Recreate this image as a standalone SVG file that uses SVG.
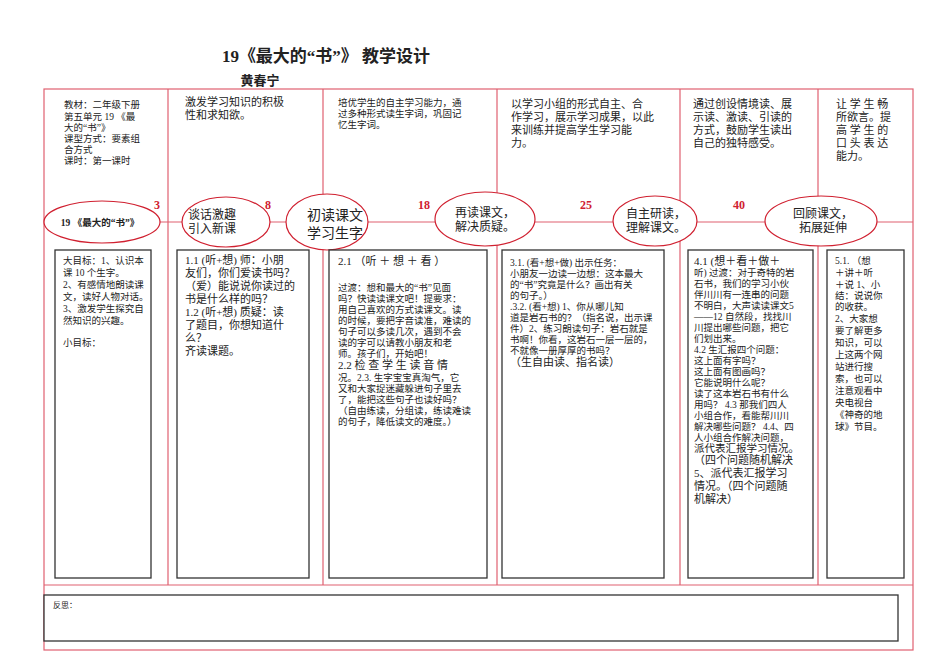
<svg xmlns="http://www.w3.org/2000/svg" width="950" height="672" viewBox="0 0 950 672">
<style>
text{font-family:"Liberation Serif","Noto Sans CJK SC",serif;fill:#222}
.red{stroke:#e06070;stroke-width:1.2;fill:none}
.ell{stroke:#d02030;stroke-width:1.2;fill:#fff}
.box{stroke:#333;stroke-width:1.3;fill:#fff}
.num{fill:#d02030;font-weight:bold;font-size:12px}
.t{font-size:11px}
.s{font-size:9.5px}
.m{font-size:12px}
</style>
<rect width="950" height="672" fill="#fff"/>
<text x="326" y="62" text-anchor="middle" font-size="17" font-weight="bold">19《最大的“书”》 教学设计</text>
<text x="260" y="85" text-anchor="middle" font-size="13" font-weight="bold">黄春宁</text>
<g id="connectors">
<rect class="red" x="44" y="89" width="869" height="561"/>
<line class="red" x1="44" y1="585" x2="913" y2="585"/>
<line class="red" x1="168" y1="89" x2="168" y2="585"/>
<line class="red" x1="323" y1="89" x2="323" y2="585"/>
<line class="red" x1="497" y1="89" x2="497" y2="585"/>
<line class="red" x1="680" y1="89" x2="680" y2="585"/>
<line class="red" x1="818" y1="89" x2="818" y2="585"/>
<line class="red" x1="160" y1="222" x2="913" y2="222"/>
</g>
<g id="top">
<text class="s"><tspan x="64" y="108">教材：二年级下册</tspan><tspan x="64" y="120">第五单元 19 《最</tspan><tspan x="64" y="131">大的“书”》</tspan><tspan x="64" y="142">课型方式：要素组</tspan><tspan x="64" y="153">合方式</tspan><tspan x="64" y="164">课时：第一课时</tspan></text>
<text class="t"><tspan x="185" y="106">激发学习知识的积极</tspan><tspan x="185" y="119">性和求知欲。</tspan></text>
<text class="s"><tspan x="338" y="106">培优学生的自主学习能力，通</tspan><tspan x="338" y="117">过多种形式读生字词，巩固记</tspan><tspan x="338" y="128">忆生字词。</tspan></text>
<text class="t"><tspan x="511" y="108">以学习小组的形式自主、合</tspan><tspan x="511" y="121">作学习，展示学习成果，以此</tspan><tspan x="511" y="134">来训练并提高学生学习能</tspan><tspan x="511" y="147">力。</tspan></text>
<text class="t"><tspan x="693" y="108">通过创设情境读、展</tspan><tspan x="693" y="121">示读、激读、引读的</tspan><tspan x="693" y="134">方式，鼓励学生读出</tspan><tspan x="693" y="147">自己的独特感受。</tspan></text>
<text class="t"><tspan x="836" y="108">让 学 生 畅</tspan><tspan x="836" y="121">所欲言。提</tspan><tspan x="836" y="134">高 学 生 的</tspan><tspan x="836" y="147">口 头 表 达</tspan><tspan x="836" y="160">能力。</tspan></text>
</g>
<g id="nums">
<text class="num" x="157" y="209" text-anchor="middle">3</text>
<text class="num" x="268" y="209" text-anchor="middle">8</text>
<text class="num" x="424" y="209" text-anchor="middle">18</text>
<text class="num" x="586" y="209" text-anchor="middle">25</text>
<text class="num" x="739" y="209" text-anchor="middle">40</text>
</g>
<g id="n1"><ellipse class="ell" cx="102" cy="222" rx="58" ry="21"/><text x="100" y="226" text-anchor="middle" font-size="9.5" font-weight="bold">19 《最大的“书”》</text></g>
<g id="n2"><ellipse class="ell" cx="226" cy="222" rx="44" ry="25"/><text class="m"><tspan x="188" y="219">谈话激趣</tspan><tspan x="188" y="233">引入新课</tspan></text></g>
<g id="n3"><ellipse class="ell" cx="327" cy="222" rx="41" ry="28"/><text font-size="14"><tspan x="307" y="220">初读课文</tspan><tspan x="307" y="238">学习生字</tspan></text></g>
<g id="n4"><ellipse class="ell" cx="485" cy="219" rx="50" ry="27"/><text class="m" text-anchor="middle"><tspan x="485" y="217">再读课文，</tspan><tspan x="485" y="231">解决质疑。</tspan></text></g>
<g id="n5"><ellipse class="ell" cx="655" cy="221" rx="42" ry="25"/><text class="m" text-anchor="middle"><tspan x="656" y="218">自主研读，</tspan><tspan x="656" y="232">理解课文。</tspan></text></g>
<g id="n6"><ellipse class="ell" cx="821" cy="221" rx="56" ry="25"/><text class="m" text-anchor="middle"><tspan x="823" y="218">回顾课文，</tspan><tspan x="823" y="232">拓展延伸</tspan></text></g>
<g id="b1"><rect class="box" x="55" y="250" width="96" height="328"/><text class="s"><tspan x="63" y="264">大目标：1、认识本</tspan><tspan x="63" y="276">课 10 个生字。</tspan><tspan x="63" y="288">2、有感情地朗读课</tspan><tspan x="63" y="300">文，读好人物对话。</tspan><tspan x="63" y="312">3、激发学生探究自</tspan><tspan x="63" y="324">然知识的兴趣。</tspan><tspan x="63" y="346">小目标：</tspan></text></g>
<g id="b2"><rect class="box" x="177" y="250" width="132" height="328"/><text class="t"><tspan x="185" y="264">1.1 (听+想) 师：小朋</tspan><tspan x="185" y="277">友们，你们爱读书吗？</tspan><tspan x="185" y="290">（爱）能说说你读过的</tspan><tspan x="185" y="303">书是什么样的吗？</tspan><tspan x="185" y="316">1.2 (听+想) 质疑：读</tspan><tspan x="185" y="329">了题目，你想知道什</tspan><tspan x="185" y="342">么？</tspan><tspan x="185" y="355">齐读课题。</tspan></text></g>
<g id="b3"><rect class="box" x="329" y="250" width="158" height="328"/><text><tspan class="t" x="338" y="265">2.1 （听 ＋ 想 ＋ 看 ）</tspan><tspan class="s" x="338" y="291">过渡：想和最大的“书”见面</tspan><tspan class="s" x="338" y="302">吗？快读读课文吧！提要求：</tspan><tspan class="s" x="338" y="313">用自己喜欢的方式读课文。读</tspan><tspan class="s" x="338" y="324">的时候，要把字音读准，难读的</tspan><tspan class="s" x="338" y="335">句子可以多读几次，遇到不会</tspan><tspan class="s" x="338" y="346">读的字可以请教小朋友和老</tspan><tspan class="s" x="338" y="357">师。孩子们，开始吧！</tspan><tspan class="t" x="338" y="369">2.2 检 查 学 生 读 音 情</tspan><tspan class="s" x="338" y="381">况。2.3. 生字宝宝真淘气，它</tspan><tspan class="s" x="338" y="392">又和大家捉迷藏躲进句子里去</tspan><tspan class="s" x="338" y="403">了，能把这些句子也读好吗？</tspan><tspan class="s" x="338" y="414">（自由练读，分组读，练读难读</tspan><tspan class="s" x="338" y="425">的句子，降低读文的难度。）</tspan></text></g>
<g id="b4"><rect class="box" x="502" y="250" width="162" height="328"/><text class="s"><tspan x="510" y="266">3.1. (看+想+做) 出示任务：</tspan><tspan x="510" y="277">小朋友一边读一边想：这本最大</tspan><tspan x="510" y="288">的“书”究竟是什么？画出有关</tspan><tspan x="510" y="299">的句子。）</tspan><tspan x="510" y="310">.3.2. (看+想) 1、你从哪儿知</tspan><tspan x="510" y="321">道是岩石书的？（指名说，出示课</tspan><tspan x="510" y="332">件）2、练习朗读句子：岩石就是</tspan><tspan x="510" y="343">书啊！你看，这岩石一层一层的，</tspan><tspan x="510" y="354">不就像一册厚厚的书吗？</tspan><tspan x="510" y="366" font-size="11">（生自由读、指名读）</tspan></text></g>
<g id="b5"><rect class="box" x="688" y="250" width="125" height="328"/><text class="s"><tspan x="694" y="265" font-size="11">4.1 (想＋看＋做＋</tspan><tspan x="694" y="276">听) 过渡：对于奇特的岩</tspan><tspan x="694" y="287">石书，我们的学习小伙</tspan><tspan x="694" y="298">伴川川有一连串的问题</tspan><tspan x="694" y="309">不明白，大声读读课文5</tspan><tspan x="694" y="320">——12 自然段，找找川</tspan><tspan x="694" y="331">川提出哪些问题，把它</tspan><tspan x="694" y="342">们划出来。</tspan><tspan x="694" y="353">4.2 生汇报四个问题：</tspan><tspan x="694" y="364">这上面有字吗？</tspan><tspan x="694" y="375">这上面有图画吗？</tspan><tspan x="694" y="386">它能说明什么呢？</tspan><tspan x="694" y="397">读了这本岩石书有什么</tspan><tspan x="694" y="408">用吗？ 4.3 那我们四人</tspan><tspan x="694" y="419">小组合作，看能帮川川</tspan><tspan x="694" y="430">解决哪些问题？ 4.4、四</tspan><tspan x="694" y="441">人小组合作解决问题，</tspan><tspan x="694" y="452" font-size="10.5">派代表汇报学习情况。</tspan><tspan x="694" y="464" font-size="11">（四个问题随机解决</tspan><tspan x="694" y="477" font-size="11">5、派代表汇报学习</tspan><tspan x="694" y="490" font-size="11">情况。（四个问题随</tspan><tspan x="694" y="503" font-size="11">机解决）</tspan></text></g>
<g id="b6"><rect class="box" x="827" y="250" width="77" height="328"/><text class="s"><tspan x="835" y="264">5.1. （想</tspan><tspan x="835" y="276">＋讲＋听</tspan><tspan x="835" y="288">＋说 1、小</tspan><tspan x="835" y="299">结：说说你</tspan><tspan x="835" y="310">的收获。</tspan><tspan x="835" y="322">2、大家想</tspan><tspan x="835" y="334">要了解更多</tspan><tspan x="835" y="346">知识，可以</tspan><tspan x="835" y="358">上这两个网</tspan><tspan x="835" y="370">站进行搜</tspan><tspan x="835" y="382">索，也可以</tspan><tspan x="835" y="394">注意观看中</tspan><tspan x="835" y="406">央电视台</tspan><tspan x="835" y="418">《神奇的地</tspan><tspan x="835" y="430">球》节目。</tspan></text></g>
<g id="reflect"><rect class="box" x="44" y="595" width="854" height="46"/><text x="53" y="608" font-size="8">反思：</text></g>
</svg>
